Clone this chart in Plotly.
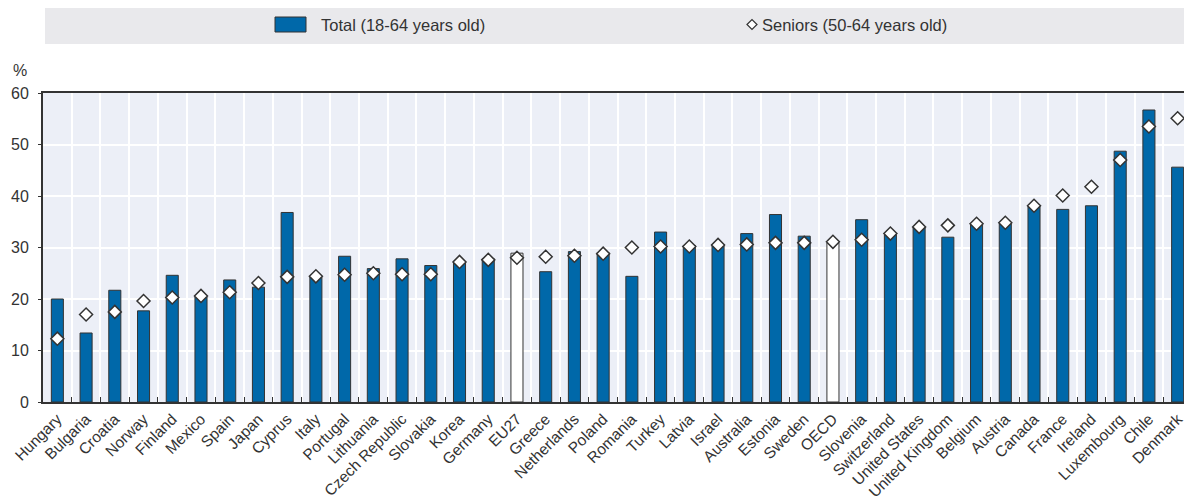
import plotly.graph_objects as go

countries = ["Hungary", "Bulgaria", "Croatia", "Norway", "Finland", "Mexico", "Spain", "Japan",
             "Cyprus", "Italy", "Portugal", "Lithuania", "Czech Republic", "Slovakia", "Korea",
             "Germany", "EU27", "Greece", "Netherlands", "Poland", "Romania", "Turkey", "Latvia",
             "Israel", "Australia", "Estonia", "Sweden", "OECD", "Slovenia", "Switzerland",
             "United States", "United Kingdom", "Belgium", "Austria", "Canada", "France",
             "Ireland", "Luxembourg", "Chile", "Denmark"]
total = [20.0, 13.4, 21.7, 17.7, 24.6, 20.4, 23.7, 22.3, 36.8, 24.4, 28.3, 25.9, 27.8, 26.5,
         27.3, 27.8, 28.9, 25.3, 29.2, 29.0, 24.4, 33.0, 30.4, 30.6, 32.7, 36.4, 32.2, 30.9,
         35.4, 32.5, 33.8, 32.0, 34.5, 34.6, 38.0, 37.4, 38.1, 48.7, 56.7, 45.6]
seniors = [12.3, 17.0, 17.5, 19.6, 20.3, 20.6, 21.3, 23.1, 24.3, 24.4, 24.7, 25.0, 24.8, 24.8,
           27.2, 27.6, 28.0, 28.2, 28.4, 28.8, 30.0, 30.2, 30.2, 30.5, 30.6, 30.9, 30.9, 31.1,
           31.5, 32.7, 34.0, 34.3, 34.6, 34.8, 38.1, 40.1, 41.8, 47.0, 53.5, 55.1]
highlight = ["EU27", "OECD"]
y_ticks = [0, 10, 20, 30, 40, 50, 60]

BLUE = "#0068A9"
DARK = "#333333"
FONT = "Liberation Sans, Arial, sans-serif"

OFF = 8  # page body margin
W, H = 1192 - OFF, 500 - OFF
ML, MR, MT = 43 - OFF, 0, 93 - OFF
MB = H - (402 - OFF)
PW, PH = W - ML - MR, H - MT - MB


def px(x):
    return (x - OFF - ML) / PW


def py(y):
    return 1 + (MT - (y - OFF)) / PH


bar_colors = ["white" if c in highlight else BLUE for c in countries]
n = len(countries)
boundaries = [i - 0.5 for i in range(n + 1)]

fig = go.Figure()
fig.add_trace(go.Bar(
    x=countries, y=total, name="Total (18-64 years old)",
    marker=dict(color=bar_colors, line=dict(color=DARK, width=1)),
    width=0.42, showlegend=False,
))
fig.add_trace(go.Scatter(
    x=countries, y=seniors, mode="markers", name="Seniors (50-64 years old)",
    marker=dict(symbol="diamond", size=10, color="white", line=dict(color=DARK, width=1.5)),
    showlegend=False,
))
# invisible helper trace to activate the boundary grid axis
fig.add_trace(go.Scatter(x=[-0.5, n - 0.5], y=[0, 0], xaxis="x2", mode="lines",
                         line=dict(width=0), hoverinfo="skip", showlegend=False))

shapes = [
    dict(type="rect", xref="paper", yref="paper", x0=px(45), x1=px(1188), y0=py(44), y1=py(5),
         fillcolor="#E9E9EC", line=dict(width=0), layer="below"),
    dict(type="rect", xref="paper", yref="paper", x0=px(275), x1=px(306), y0=py(32), y1=py(17),
         fillcolor=BLUE, line=dict(color=DARK, width=1)),
    dict(type="path", xref="paper", yref="paper", xsizemode="pixel", ysizemode="pixel",
         xanchor=px(752), yanchor=py(24.5), path="M-5,0 L0,5 L5,0 L0,-5 Z",
         fillcolor="white", line=dict(color=DARK, width=1.2)),
]
annotations = [
    dict(text="Total (18-64 years old)", xref="paper", yref="paper", x=px(319), y=py(24.5),
         xanchor="left", yanchor="middle", showarrow=False, font=dict(size=16.5, color=DARK, family=FONT)),
    dict(text="Seniors (50-64 years old)", xref="paper", yref="paper", x=px(760), y=py(24.5),
         xanchor="left", yanchor="middle", showarrow=False, font=dict(size=16.5, color=DARK, family=FONT)),
    dict(text="%", xref="paper", yref="paper", x=px(20), y=py(71),
         xanchor="center", yanchor="middle", showarrow=False, font=dict(size=16, color=DARK, family=FONT)),
]

fig.update_layout(
    width=W, height=H,
    margin=dict(l=ML, r=MR, t=MT, b=MB, autoexpand=False),
    paper_bgcolor="white", plot_bgcolor="#ECEFF7",
    font=dict(family=FONT, color=DARK, size=16),
    shapes=shapes, annotations=annotations,
    xaxis=dict(
        type="category", tickangle=-45, tickfont=dict(size=15.5, color=DARK), automargin=False,
        tickson="boundaries", ticks="inside", ticklen=5, tickcolor=DARK,
        showgrid=False, range=[-0.5, n - 0.5],
        showline=True, linecolor=DARK, linewidth=2, mirror=True,
    ),
    xaxis2=dict(overlaying="x", range=[-0.5, n - 0.5], tickvals=boundaries,
                showticklabels=False, showgrid=True, gridcolor="white", gridwidth=2,
                ticks="", showline=False, zeroline=False, layer="below traces", side="bottom"),
    yaxis=dict(
        range=[0, 60], tickvals=y_ticks, tickfont=dict(size=16, color=DARK), automargin=False,
        ticks="outside", ticklen=3, tickcolor=DARK, ticklabelstandoff=6,
        showgrid=True, gridcolor="white", gridwidth=2,
        showline=True, linecolor=DARK, linewidth=2, zeroline=False,
    ),
)

fig.write_html("out.html")
